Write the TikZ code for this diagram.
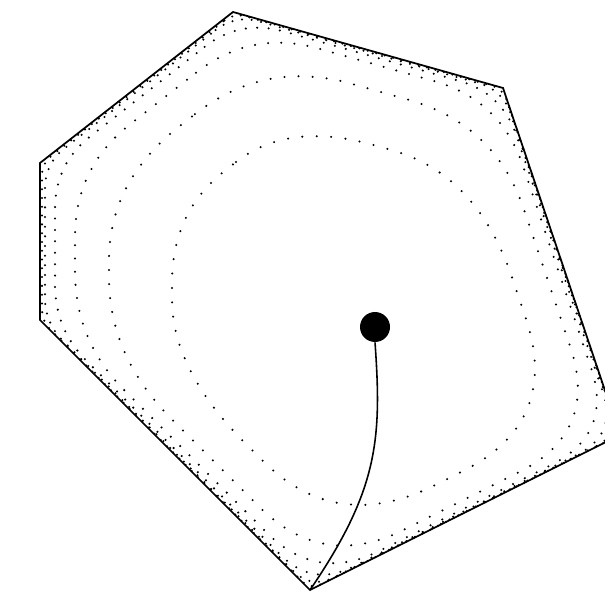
\documentclass[tikz,border=0pt]{standalone}
\usetikzlibrary{calc}
\tikzset{
    rim/.style={line width=1pt, line join=miter},
    level curve/.style={line width=1.3pt, line cap=round, dash pattern=on 0pt off #1pt},
    peak/.style={circle, fill=black, inner sep=0pt, minimum size=0.6cm},
    flow/.style={line width=0.9pt}
}
\begin{document}
\begin{tikzpicture}[x=0.02cm, y=-0.02cm]
    \useasboundingbox (0,0) rectangle (605,597);
    \clip (0,0) rectangle (605,597);

    % corners of the region
    \coordinate (A) at (233,12);
    \coordinate (B) at (503,88);
    \coordinate (C) at (620,435);
    \coordinate (D) at (310,590);
    \coordinate (E) at (40,320);
    \coordinate (F) at (40,163);

    % level curves: offset of each side, corner cut, dot gap
    \foreach \oT/\oR/\oLR/\oLL/\oL/\oUL/\c/\gap in {
            90/52/38/58/132/120/110/8.2,
            37/19/12/23/69/57/90/8,
            12/6/4/10/35/25/70/7.5,
            5/2.5/1.6/4/15/10/45/6.5,
            2/1/0.7/1.6/5/3.5/25/5.5,
            0.8/0.4/0.3/0.6/2/1.4/12/5} {
        \foreach \P/\Q/\o/\n in {A/B/\oT/1, B/C/\oR/2, C/D/\oLR/3,
                D/E/\oLL/4, E/F/\oL/5, F/A/\oUL/6} {
            \coordinate (p\n) at ($(\P)!{\o*0.02cm}!-90:(\Q)$);
            \coordinate (q\n) at ($(\Q)!{\o*0.02cm}!90:(\P)$);
        }
        \foreach \i/\h in {1/6, 2/1, 3/2, 4/3, 5/4, 6/5}
            \coordinate (v\i) at (intersection cs:
                first line={(p\h)--(q\h)}, second line={(p\i)--(q\i)});
        \foreach \i/\h/\j in {1/6/2, 2/1/3, 3/2/4, 4/3/5, 5/4/6, 6/5/1}
            \path let \p1 = ($(v\h)-(v\i)$), \p2 = ($(v\j)-(v\i)$),
                      \n1 = {min(\c*0.02cm, 0.45*veclen(\x1,\y1))},
                      \n2 = {min(\c*0.02cm, 0.45*veclen(\x2,\y2))} in
                coordinate (a\i) at ($(v\i)!\n1!(v\h)$)
                coordinate (b\i) at ($(v\i)!\n2!(v\j)$);
        \draw[level curve=\gap] (a1)
            \foreach \i/\j in {1/2, 2/3, 3/4, 4/5, 5/6, 6/1} {
                .. controls ($(a\i)!2/3!(v\i)$) and ($(b\i)!2/3!(v\i)$) .. (b\i) -- (a\j)
            } -- cycle;
    }

    \draw[rim] (A) -- (B) -- (C) -- (D) -- (E) -- (F) -- cycle;

    \node[peak] (summit) at (375,327) {};
    \draw[flow] (summit.south) .. controls (382,440) and (378,490) .. (D);
\end{tikzpicture}
\end{document}
